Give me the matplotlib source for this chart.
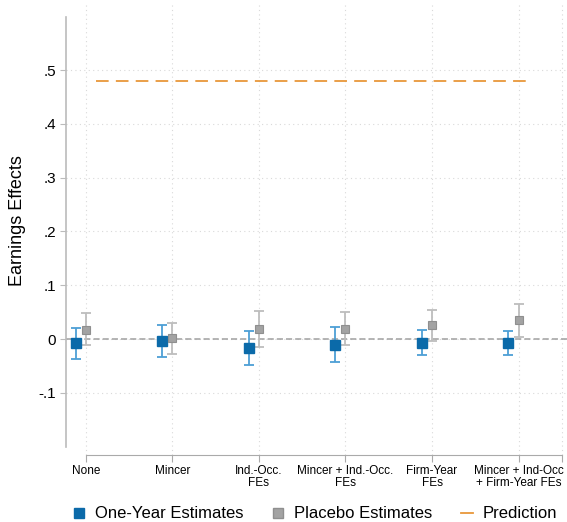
import numpy as np
import matplotlib
matplotlib.use("Agg")
import matplotlib.pyplot as plt
from matplotlib.lines import Line2D

plt.rcParams['font.family'] = ['Liberation Sans', 'DejaVu Sans']

# categories (x axis)
labels = ['None', 'Mincer', 'Ind.-Occ.\nFEs', 'Mincer + Ind.-Occ.\nFEs',
          'Firm-Year\nFEs', 'Mincer + Ind-Occ\n+ Firm-Year FEs']

# one-year estimates with CI
one_est = [-0.008, -0.004, -0.016, -0.011, -0.007, -0.007]
one_lo = [-0.038, -0.033, -0.048, -0.043, -0.030, -0.030]
one_hi = [0.020, 0.026, 0.015, 0.023, 0.016, 0.015]

# placebo estimates with CI
pla_est = [0.017, 0.001, 0.019, 0.019, 0.026, 0.035]
pla_lo = [-0.012, -0.027, -0.014, -0.012, -0.004, 0.004]
pla_hi = [0.048, 0.030, 0.053, 0.050, 0.054, 0.066]

prediction = 0.48

blue = '#0b6aa9'
blue_ci = '#4d9fd6'
gray = '#a3a3a3'
gray_ci = '#bdbdbd'
orange = '#e8973a'

x = np.arange(1, len(labels) + 1)

fig = plt.figure(figsize=(5.67, 5.22), dpi=100)
ax = fig.add_axes([66 / 567, 1 - 455 / 522, 501 / 567, 450 / 522])

ax.set_xlim(0.77, 6.56)
ax.set_ylim(-0.2156, 0.621)

yt = [-0.1, 0, 0.1, 0.2, 0.3, 0.4, 0.5]
ax.set_yticks(yt)
ax.set_yticklabels(['-.1', '0', '.1', '.2', '.3', '.4', '.5'], fontsize=11)
ax.set_xticks(list(x) + [6.5])
ax.set_xticklabels(labels + [''], fontsize=8.5, linespacing=1.05)

for v in yt:
    ax.axhline(v, color='#d9d9d9', lw=0.8, ls=(0, (1, 3)), zorder=0)
for v in list(x) + [6.5]:
    ax.axvline(v, color='#d9d9d9', lw=0.8, ls=(0, (1, 3)), zorder=0)
ax.axhline(0, color='#a0a0a0', lw=1.1, ls=(0, (4, 2)), zorder=1)

ax.plot([1.12, 6.1], [prediction, prediction], color=orange, lw=1.3,
        ls=(0, (7, 4)), zorder=2)

xb = x - 0.12
ax.errorbar(xb, one_est,
            yerr=[np.array(one_est) - np.array(one_lo), np.array(one_hi) - np.array(one_est)],
            fmt='none', ecolor=blue_ci, elinewidth=1.3, capsize=3.5, capthick=1.3, zorder=3)
ax.plot(xb, one_est, 's', color=blue, ms=6.5, zorder=4)
ax.errorbar(x, pla_est,
            yerr=[np.array(pla_est) - np.array(pla_lo), np.array(pla_hi) - np.array(pla_est)],
            fmt='none', ecolor=gray_ci, elinewidth=1.3, capsize=3.5, capthick=1.3, zorder=3)
ax.plot(x, pla_est, 's', mfc=gray, mec='#8f8f8f', mew=0.8, ms=6.2, zorder=4)

for s in ['top', 'right']:
    ax.spines[s].set_visible(False)
ax.spines['left'].set_bounds(-0.2, 0.598)
ax.spines['left'].set_color('#bbbbbb')
ax.spines['left'].set_linewidth(1.2)
ax.spines['bottom'].set_bounds(1, 6.5)
ax.spines['bottom'].set_color('#aaaaaa')
ax.tick_params(axis='y', length=4, color='#bbbbbb', pad=3)
ax.tick_params(axis='x', length=5, color='#aaaaaa', pad=2)

ax.set_ylabel('Earnings Effects', fontsize=13)
ax.yaxis.set_label_coords(-0.08, 0.52)

handles = [Line2D([], [], marker='s', ls='none', color=blue, ms=7),
           Line2D([], [], marker='s', ls='none', mfc=gray, mec='#8f8f8f', ms=7),
           Line2D([], [], color=orange, lw=1.3)]
fig.legend(handles, ['One-Year Estimates', 'Placebo Estimates', 'Prediction'],
           loc='center left', bbox_to_anchor=(73 / 567, 1 - 514 / 522), ncol=3,
           frameon=False, fontsize=12, handlelength=0.7, handletextpad=0.6,
           columnspacing=1.75, borderaxespad=0, borderpad=0)

fig.savefig('out.png', dpi=100)
